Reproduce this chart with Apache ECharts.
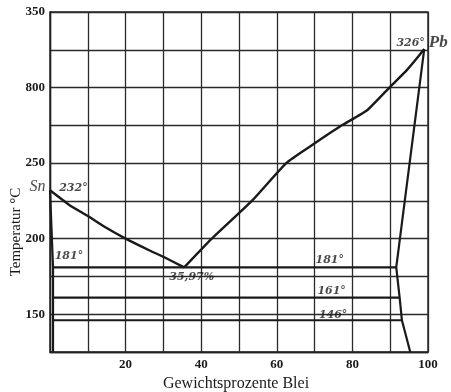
<!DOCTYPE html>
<html>
<head>
<meta charset="utf-8">
<script src="https://cdn.jsdelivr.net/npm/echarts@6/dist/echarts.min.js"></script>
<style>
  html, body { margin: 0; padding: 0; background: #fff; }
  #chart { width: 451px; height: 392px; }
</style>
</head>
<body>
<div id="chart"></div>
<script>
// Zustandsdiagramm Zinn-Blei, Werte
const liquidusSn = [[0, 232], [5, 222.5], [10, 215], [15, 207], [20, 200], [26.5, 192], [30, 188], [35.5, 181]]
const liquidusPb = [[35.5, 181], [42.8, 200], [53.4, 225], [62.5, 250], [68.8, 261], [77.2, 275], [83.9, 285], [89.8, 300], [94.4, 311.5], [97.1, 319.5], [99, 325.5]]
const solidusPb = [[99, 325.5], [91.6, 181], [92.5, 161], [93.1, 146], [95.3, 125]]
const solidusSn = [[0, 232], [0.8, 181], [0.8, 125]]
const eutectic = [[0.8, 181], [91.6, 181]]
const line161 = [[0.8, 161], [92.5, 161]]
const line146 = [[0.8, 146], [93.1, 146]]

const yTickLabels = { 150: "150", 200: "200", 250: "250", 300: "800", 350: "350" }
const xTickLabels = { 20: "20", 40: "40", 60: "60", 80: "80", 100: "100" }

// Beschriftungen im Diagramm: [x, y, text]
const notes = [
  [6.2, 233.5, "232°"],
  [5.0, 188.5, "181°"],
  [37.5, 174.8, "35,97%"],
  [74.0, 185.6, "181°"],
  [74.5, 165.0, "161°"],
  [74.9, 149.6, "146°"],
  [95.4, 329.7, "326°"]
]
const noteSn = [[-3.3, 234.2, "Sn"]]
const notePb = [[102.7, 329.7, "Pb"]]

const serif = "'DejaVu Serif', 'Liberation Serif', serif"
const serif2 = "'Liberation Serif', 'DejaVu Serif', serif"
const ink = "#1a1a1a"

function curve(data) {
  return {
    type: "line",
    data: data,
    symbol: "none",
    smooth: 0.15,
    lineStyle: { color: ink, width: 2.4 },
    z: 3
  }
}

function straight(data) {
  return {
    type: "line",
    data: data,
    symbol: "none",
    lineStyle: { color: ink, width: 2.2 },
    z: 3
  }
}

function notesSeries(data, size, weight, font) {
  return {
    type: "scatter",
    data: data,
    symbolSize: 0,
    clip: false,
    z: 5,
    label: {
      show: true,
      position: "inside",
      color: ink,
      fontFamily: font,
      fontStyle: "italic",
      fontWeight: weight,
      fontSize: size,
      formatter: (p) => p.value[2]
    }
  }
}

const chart = echarts.init(document.getElementById("chart"))

const option = {
  backgroundColor: "#fff",
  animation: false,
  grid: {
    left: 50,
    right: 23,
    top: 12,
    bottom: 40,
    outerBoundsMode: "none",
    show: true,
    borderColor: "#222",
    borderWidth: 1.4
  },
  xAxis: {
    type: "value",
    min: 0,
    max: 100,
    interval: 10,
    axisLine: { show: true, lineStyle: { color: "#222", width: 1.4 } },
    axisTick: { show: false },
    axisLabel: {
      margin: 6,
      color: ink,
      fontFamily: serif2,
      fontSize: 13,
      fontWeight: "bold",
      formatter: (v) => xTickLabels[v] || ""
    },
    splitLine: { show: true, lineStyle: { color: "#2a2a2a", width: 1.3 } },
    name: "Gewichtsprozente Blei",
    nameLocation: "middle",
    nameGap: 23,
    nameTextStyle: { color: ink, fontFamily: serif2, fontSize: 16, padding: [0, 0, 0, -6] }
  },
  yAxis: {
    type: "value",
    min: 125,
    max: 350,
    interval: 25,
    axisLine: { show: true, lineStyle: { color: "#222", width: 1.4 } },
    axisTick: { show: false },
    axisLabel: {
      margin: 5,
      color: ink,
      fontFamily: serif2,
      fontSize: 13,
      fontWeight: "bold",
      formatter: (v) => yTickLabels[v] || ""
    },
    splitLine: { show: true, lineStyle: { color: "#2a2a2a", width: 1.3 } }
  },
  graphic: [
    {
      type: "text",
      x: 16,
      y: 232,
      rotation: Math.PI / 2,
      style: {
        text: "Temperatur °C",
        fill: ink,
        font: "15px " + serif2,
        align: "center",
        verticalAlign: "middle"
      }
    }
  ],
  series: [
    curve(liquidusSn),
    curve(liquidusPb),
    straight(solidusPb),
    straight(solidusSn),
    straight(eutectic),
    straight(line161),
    straight(line146),
    notesSeries(notes, 11, "bold", serif),
    notesSeries(noteSn, 16, "normal", serif2),
    notesSeries(notePb, 17, "bold", serif2)
  ]
}
chart.setOption(option, true)
</script>
</body>
</html>
